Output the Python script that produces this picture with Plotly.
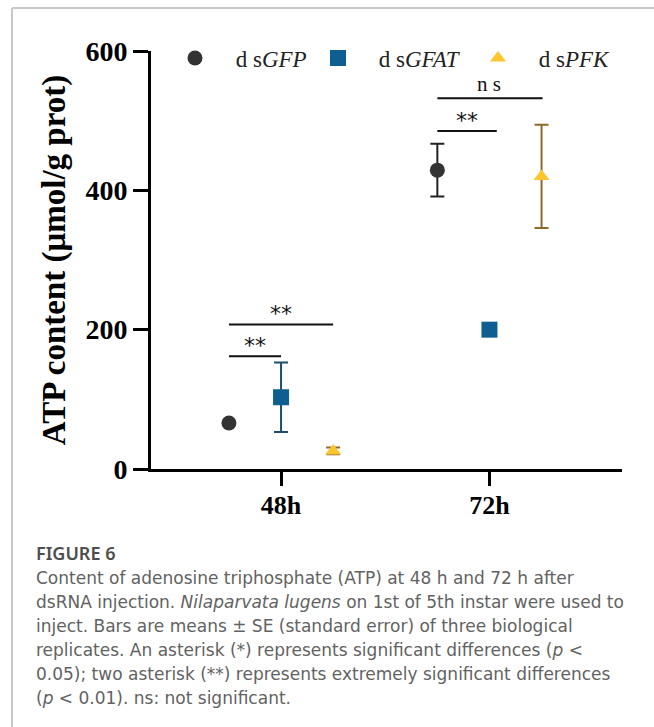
import plotly.graph_objects as go

# ---------------- data ----------------
categories = ["48h", "72h"]
series_names = ["ds<i>GFP</i>", "ds<i>GFAT</i>", "ds<i>PFK</i>"]
gfp_mean = [66, 429]
gfp_se = [0, 38]
gfat_mean = [103, 200]
gfat_se = [50, 5]
pfk_mean = [26, 420]
pfk_se = [5, 74]
y_ticks = [0, 200, 400, 600]

# ---------------- styling ----------------
W, H = 654, 727
ML, MR, MT, MB = 151, 32, 51, 258
PW, PH = W - ML - MR, H - MT - MB
XR = [-0.624, 1.636]
YR = [0, 600]


def px_x(p):
    return (p - ML) / PW


def px_y(p):
    return (H - MB - p) / PH


offsets = [-0.25, 0.0, 0.25]
series = [
    (series_names[0], gfp_mean, gfp_se, "circle", 15, "#333333", "#222222", "legend"),
    (series_names[1], gfat_mean, gfat_se, "square", 16, "#0E5E91", "#1E4D6B", "legend2"),
    (series_names[2], pfk_mean, pfk_se, "triangle-up", 14, "#FBC62E", "#8C6A2C", "legend3"),
]

fig = go.Figure()
for (name, m, se, sym, size, col, ecol, leg), off in zip(series, offsets):
    fig.add_trace(go.Scatter(
        x=[i + off for i in range(len(categories))],
        y=m,
        mode="markers",
        name=" " + name.replace("ds", "d s", 1),
        legend=leg,
        marker=dict(symbol=sym, size=size, color=col, line=dict(width=0)),
        error_y=dict(type="data", array=se, visible=True, color=ecol,
                     thickness=2, width=7),
        showlegend=True,
    ))

serif = "Liberation Serif, Times New Roman, serif"

# legends (one per series, positioned like the reference)
leg_common = dict(orientation="h", yanchor="middle", xanchor="left",
                  font=dict(family=serif, size=23, color="#222"),
                  itemwidth=60, bgcolor="rgba(0,0,0,0)", borderwidth=0)
legend_px = [160, 303, 463]
fig.update_layout(
    legend=dict(x=px_x(legend_px[0]), y=px_y(58), **leg_common),
    legend2=dict(x=px_x(legend_px[1]), y=px_y(58), **leg_common),
    legend3=dict(x=px_x(legend_px[2]), y=px_y(58), **leg_common),
)

# significance brackets
brackets = [
    # x0, x1, y (data), label, label_x
    (-0.25, 0.0, 162, "**", -0.125),
    (-0.25, 0.25, 207.5, "**", 0.0),
    (0.75, 1.035, 485, "**", 0.89),
    (0.75, 1.255, 532, "n s", 1.0),
]
for x0, x1, yv, lab, lx in brackets:
    fig.add_shape(type="line", xref="x", yref="y", x0=x0, x1=x1, y0=yv, y1=yv,
                  line=dict(color="#111", width=2))
    if lab.startswith("*"):
        fig.add_annotation(x=lx, y=yv, xref="x", yref="y", text=lab, showarrow=False,
                           yanchor="bottom", yshift=-4,
                           font=dict(family="DejaVu Sans", size=22, color="#111"))
    else:
        fig.add_annotation(x=lx, y=yv, xref="x", yref="y", text=lab, showarrow=False,
                           yanchor="bottom", yshift=0,
                           font=dict(family=serif, size=21, color="#111"))

# frame border
fig.add_shape(type="line", xref="paper", yref="paper",
              x0=px_x(12), x1=px_x(12), y0=px_y(8), y1=px_y(H + 5),
              line=dict(color="#c8c8c8", width=2))
fig.add_shape(type="line", xref="paper", yref="paper",
              x0=px_x(12), x1=px_x(W + 5), y0=px_y(8), y1=px_y(8),
              line=dict(color="#c8c8c8", width=2))

# caption
cap_font = "DejaVu Sans, Open Sans, sans-serif"
fig.add_annotation(x=px_x(34), y=px_y(553), xref="paper", yref="paper",
                   text="FIGURE 6", showarrow=False, xanchor="left", yanchor="middle",
                   font=dict(family="Noto Sans", size=18, color="#4d4d4d", weight=600))
caption_lines = [
    "Content of adenosine triphosphate (ATP) at 48 h and 72 h after",
    "dsRNA injection. <i>Nilaparvata lugens</i> on 1st of 5th instar were used to",
    "inject. Bars are means ± SE (standard error) of three biological",
    "replicates. An asterisk (*) represents significant differences (<i>p</i> <",
    "0.05); two asterisk (**) represents extremely significant differences",
    "(<i>p</i> < 0.01). ns: not significant.",
]
for k, line in enumerate(caption_lines):
    fig.add_annotation(x=px_x(34), y=px_y(578 + 24 * k), xref="paper", yref="paper",
                       text=line, showarrow=False, xanchor="left", yanchor="middle",
                       font=dict(family=cap_font, size=17, color="#626262"))

fig.update_layout(
    width=W, height=H,
    margin=dict(l=ML, r=MR, t=MT, b=MB, pad=0),
    paper_bgcolor="white", plot_bgcolor="white",
    xaxis=dict(range=XR, tickvals=[0, 1], ticktext=categories,
               showline=True, linecolor="black", linewidth=3,
               ticks="outside", ticklen=14, tickwidth=3, tickcolor="black",
               showgrid=False, zeroline=False, ticklabelstandoff=-3,
               tickfont=dict(family=serif, size=26, color="black", weight="bold")),
    yaxis=dict(range=YR, tickvals=y_ticks,
               showline=True, linecolor="black", linewidth=3,
               ticks="outside", ticklen=15, tickwidth=3, tickcolor="black",
               showgrid=False, zeroline=False,
               tickfont=dict(family=serif, size=28, color="black", weight="bold"),
               title=dict(text="ATP content (μmol/g prot)", standoff=10,
                          font=dict(family=serif, size=33, color="black", weight="bold"))),
)

fig.write_html("out.html", config={"displayModeBar": False},
               post_script="document.body.style.margin='0';")
